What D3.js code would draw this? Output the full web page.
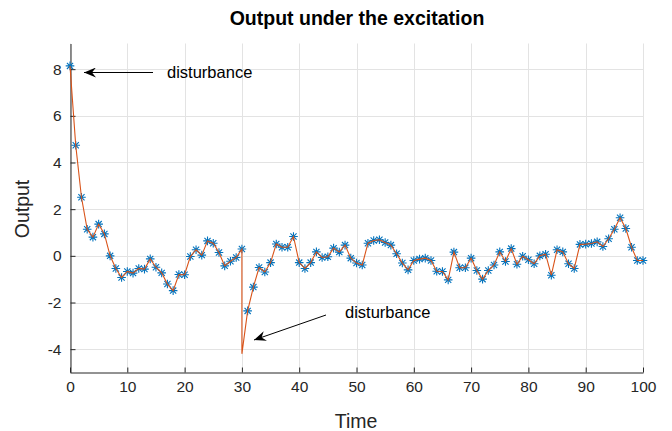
<!DOCTYPE html>
<html>
<head>
<meta charset="utf-8">
<script src="https://cdn.jsdelivr.net/npm/d3@7"></script>
<style>
  html, body { margin: 0; padding: 0; background: #fff; }
  svg { display: block; font-family: "Liberation Sans", Arial, Helvetica, sans-serif; }
</style>
</head>
<body>
<svg id="chart" width="672" height="431"></svg>
<script>
// ---- data ----
const timeSteps = d3.range(0, 101);
const output = [
  8.14, 4.74, 2.51, 1.14, 0.80, 1.36, 0.94, 0.00, -0.54, -0.93,
  -0.67, -0.74, -0.54, -0.57, -0.13, -0.49, -0.73, -1.21, -1.49, -0.80,
  -0.81, -0.03, 0.26, 0.03, 0.64, 0.54, 0.14, -0.43, -0.23, -0.07,
  0.29, -2.36, -1.34, -0.50, -0.69, -0.29, 0.51, 0.37, 0.37, 0.83,
  -0.29, -0.54, -0.29, 0.17, -0.07, -0.04, 0.33, 0.16, 0.46, -0.10,
  -0.31, -0.39, 0.54, 0.66, 0.69, 0.57, 0.46, 0.09, -0.31, -0.60,
  -0.20, -0.14, -0.10, -0.20, -0.66, -0.67, -1.03, 0.16, -0.51, -0.51,
  -0.10, -0.63, -1.00, -0.63, -0.39, 0.17, -0.24, 0.31, -0.36, -0.02,
  -0.17, -0.34, 0.00, 0.07, -0.83, 0.26, 0.17, -0.34, -0.54, 0.49,
  0.50, 0.53, 0.60, 0.40, 0.73, 1.14, 1.63, 1.17, 0.37, -0.20, -0.20
];
// disturbance sample inserted into the line at t = 30
const disturbanceTime = 30;
const disturbanceValue = -4.2;
const xTicks = [0, 10, 20, 30, 40, 50, 60, 70, 80, 90, 100];
const yTicks = [-4, -2, 0, 2, 4, 6, 8];
const titleText = "Output under the excitation";
const xLabel = "Time";
const yLabel = "Output";
const annotationTexts = ["disturbance", "disturbance"];

// ---- layout ----
const svg = d3.select("#chart");
const x = d3.scaleLinear().domain([0, 100]).range([70, 643]);
const y = d3.scaleLinear().domain([-5, 9.1]).range([372.5, 43.5]);

// grid
const grid = svg.append("g");
grid.selectAll("line.vx").data(xTicks).join("line")
  .attr("x1", d => Math.round(x(d)) + 0.5).attr("x2", d => Math.round(x(d)) + 0.5)
  .attr("y1", y(9.1)).attr("y2", y(-5))
  .attr("stroke", "#e3e3e3").attr("stroke-width", 1);
grid.selectAll("line.hy").data(yTicks).join("line")
  .attr("x1", x(0)).attr("x2", x(100))
  .attr("y1", d => Math.round(y(d)) + 0.5).attr("y2", d => Math.round(y(d)) + 0.5)
  .attr("stroke", "#e3e3e3").attr("stroke-width", 1);

// axes
const xAxis = d3.axisBottom(x).tickValues(xTicks).tickSizeInner(-5).tickSizeOuter(0).tickPadding(8);
const yAxis = d3.axisLeft(y).tickValues(yTicks).tickSizeInner(-5).tickSizeOuter(0).tickPadding(9)
  .tickFormat(d => d < 0 ? "-" + Math.abs(d) : d);

const gx = svg.append("g").attr("transform", "translate(0,372.5)").call(xAxis);
const gy = svg.append("g").attr("transform", "translate(70.5,0)").call(yAxis);
[gx, gy].forEach(g => {
  g.select(".domain").attr("stroke", "#262626").attr("stroke-width", 1);
  g.selectAll(".tick line").attr("stroke", "#262626");
  g.selectAll(".tick text").attr("fill", "#262626")
    .style("font-size", "15.5px").style("font-family", "'Liberation Sans', Arial, sans-serif");
});

// series
const pts = timeSteps.map((t, i) => ({ t, v: output[i] }));
const linePts = [];
pts.forEach(p => {
  linePts.push(p);
  if (p.t === disturbanceTime) linePts.push({ t: disturbanceTime, v: disturbanceValue });
});

// markers (asterisks)
const r = 4.3, rd = r * 0.72;
const star = `M${-r},0L${r},0M0,${-r}L0,${r}M${-rd},${-rd}L${rd},${rd}M${-rd},${rd}L${rd},${-rd}`;
svg.append("g").selectAll("path").data(pts).join("path")
  .attr("d", star)
  .attr("transform", d => `translate(${x(d.t)},${y(d.v)})`)
  .attr("fill", "none").attr("stroke", "#0072BD").attr("stroke-width", 1.1);

// line
svg.append("path").datum(linePts)
  .attr("d", d3.line().x(d => x(d.t)).y(d => y(d.v)))
  .attr("fill", "none").attr("stroke", "#D95319").attr("stroke-width", 1.1);

// annotations
const defs = svg.append("defs");
defs.append("marker").attr("id", "ah").attr("viewBox", "0 0 12 10")
  .attr("refX", 12).attr("refY", 5).attr("markerWidth", 12).attr("markerHeight", 10)
  .attr("markerUnits", "userSpaceOnUse").attr("orient", "auto")
  .append("path").attr("d", "M0,0L12,5L0,10L4,5Z").attr("fill", "#000");

const ann = [
  { text: annotationTexts[0], x1: 153, y1: 72.5, x2: 84, y2: 72.5, tx: 167, ty: 77.5 },
  { text: annotationTexts[1], x1: 326, y1: 315, x2: 254, y2: 340, tx: 345, ty: 318 }
];
ann.forEach(a => {
  svg.append("line").attr("x1", a.x1).attr("y1", a.y1).attr("x2", a.x2).attr("y2", a.y2)
    .attr("stroke", "#000").attr("stroke-width", 1).attr("marker-end", "url(#ah)");
  svg.append("text").attr("x", a.tx).attr("y", a.ty).text(a.text)
    .attr("fill", "#000").style("font-size", "16.5px");
});

// titles
svg.append("text").attr("x", 357).attr("y", 25).attr("text-anchor", "middle")
  .style("font-size", "19.5px").style("font-weight", "bold").attr("fill", "#000").text(titleText);
svg.append("text").attr("x", 356).attr("y", 428).attr("text-anchor", "middle")
  .style("font-size", "19.5px").attr("fill", "#262626").text(xLabel);
svg.append("text").attr("transform", "translate(29,209) rotate(-90)").attr("text-anchor", "middle")
  .style("font-size", "19.5px").attr("fill", "#262626").text(yLabel);
</script>
</body>
</html>
